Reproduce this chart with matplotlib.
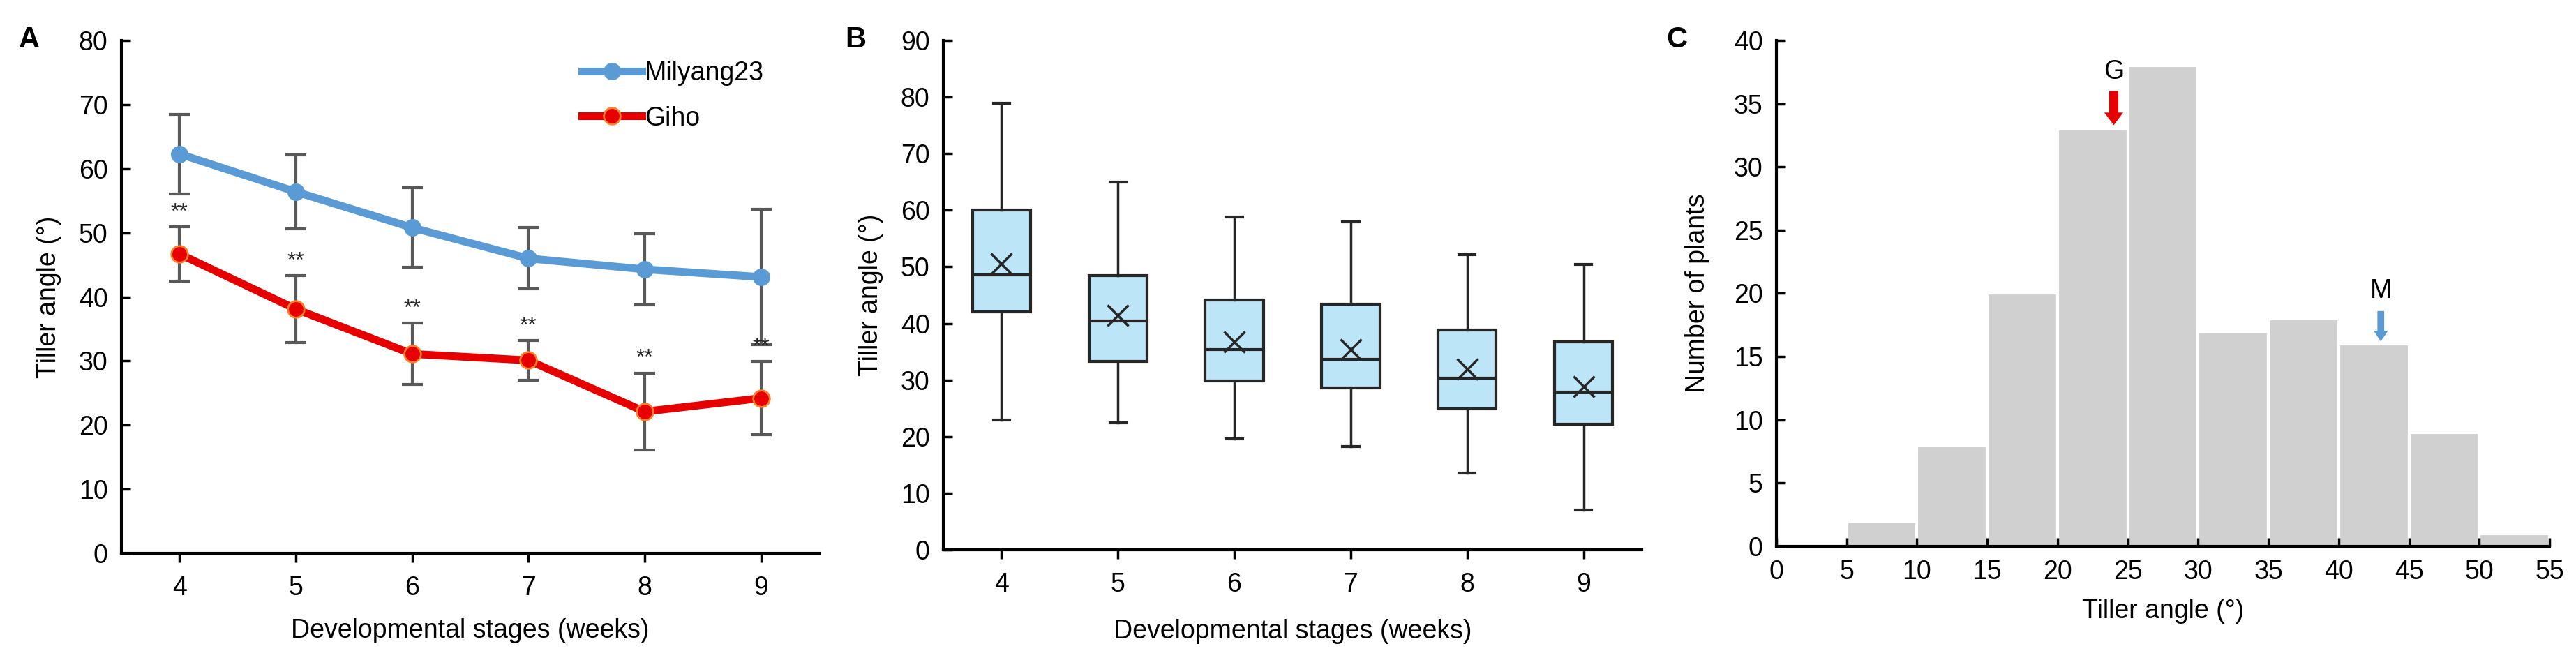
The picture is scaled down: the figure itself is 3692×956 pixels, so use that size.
import numpy as np
import matplotlib
matplotlib.use('Agg')
import matplotlib.pyplot as plt
from matplotlib.lines import Line2D

plt.rcParams['font.family'] = ['Liberation Sans', 'DejaVu Sans']

# Panel A: mean tiller angle with SD
weeks = [4, 5, 6, 7, 8, 9]
milyang_mean = [62.3, 56.4, 50.8, 46.0, 44.3, 43.1]
milyang_sd = [6.2, 5.8, 6.2, 4.8, 5.6, 10.6]
giho_mean = [46.7, 38.1, 31.1, 30.1, 22.1, 24.2]
giho_sd = [4.2, 5.2, 4.8, 3.1, 6.0, 5.7]

# Panel B: box plot stats per week
box_whislo = [22.9, 22.4, 19.6, 18.3, 13.6, 7.0]
box_q1 = [42.1, 33.3, 29.9, 28.6, 24.9, 22.2]
box_med = [48.6, 40.4, 35.4, 33.7, 30.3, 27.9]
box_q3 = [60.0, 48.5, 44.2, 43.4, 38.9, 36.7]
box_whishi = [78.9, 65.0, 58.8, 57.9, 52.2, 50.4]
box_mean = [50.6, 41.4, 36.8, 35.4, 31.9, 28.9]

# Panel C: histogram of tiller angle
bin_edges = [0, 5, 10, 15, 20, 25, 30, 35, 40, 45, 50, 55]
counts = [0, 2, 8, 20, 33, 38, 17, 18, 16, 9, 1]
giho_pos = 24.0
milyang_pos = 43.0

blue = '#5B9BD5'
red = '#E60000'
fs = 27

fig = plt.figure(figsize=(36.92, 9.56), dpi=100)
axA = fig.add_axes([0.0471, 0.1705, 0.2709, 0.7688])
axB = fig.add_axes([0.3662, 0.1757, 0.2711, 0.7636])
axC = fig.add_axes([0.6896, 0.181, 0.3001, 0.7584])

for ax in (axA, axB, axC):
    ax.spines['top'].set_visible(False)
    ax.spines['right'].set_visible(False)
    ax.spines['left'].set_linewidth(3)
    ax.spines['bottom'].set_linewidth(3)
    ax.tick_params(labelsize=fs, width=2.5, length=9, colors='black')
    ax.tick_params(axis='y', direction='in', pad=14)
    ax.tick_params(axis='x', pad=14)

# ---- A ----
axA.errorbar(weeks, milyang_mean, yerr=milyang_sd, fmt='none', ecolor='#595959',
             elinewidth=3, capsize=11, capthick=3, zorder=2)
axA.errorbar(weeks, giho_mean, yerr=giho_sd, fmt='none', ecolor='#595959',
             elinewidth=3, capsize=11, capthick=3, zorder=2)
axA.plot(weeks, milyang_mean, color=blue, lw=8, marker='o', ms=17,
         mfc=blue, mec=blue, zorder=3)
axA.plot(weeks, giho_mean, color=red, lw=8, marker='o', ms=17,
         mfc=red, mec='#FF7F27', mew=2, zorder=3)
for w, m, s in zip(weeks, giho_mean, giho_sd):
    axA.text(w, m + s + 0.6, '**', ha='center', va='bottom', fontsize=23,
             color='#262626', zorder=4)
axA.set_xlim(3.5, 9.5)
axA.set_ylim(0, 80)
axA.set_xticks(weeks)
axA.set_yticks(np.arange(0, 81, 10))
axA.tick_params(axis='x', direction='out')
axA.set_xlabel('Developmental stages (weeks)', fontsize=fs, labelpad=18)
axA.set_ylabel('Tiller angle (°)', fontsize=fs, labelpad=18)
handles = [Line2D([], [], color=blue, lw=8, marker='o', ms=17, mec=blue),
           Line2D([], [], color=red, lw=8, marker='o', ms=17, mec='#FF7F27', mew=2)]
axA.legend(handles, ['Milyang23', 'Giho'], loc='upper left', bbox_to_anchor=(0.66, 0.96),
           frameon=False, fontsize=fs, handlelength=2.3, handletextpad=0.1,
           labelspacing=0.75, borderaxespad=0, borderpad=0)

# ---- B ----
stats = []
for i in range(len(weeks)):
    stats.append(dict(whislo=box_whislo[i], q1=box_q1[i], med=box_med[i], q3=box_q3[i],
                      whishi=box_whishi[i], mean=box_mean[i], fliers=[]))
axB.bxp(stats, positions=weeks, widths=0.5, showmeans=True, patch_artist=True,
        boxprops=dict(facecolor='#BDE5F8', edgecolor='#262626', linewidth=3),
        medianprops=dict(color='#262626', linewidth=3),
        whiskerprops=dict(color='#262626', linewidth=2.5),
        capprops=dict(color='#262626', linewidth=3), capwidths=0.14,
        meanprops=dict(marker='x', markersize=22, markeredgecolor='#262626',
                       markeredgewidth=2.5))
axB.set_xlim(3.5, 9.5)
axB.set_ylim(0, 90)
axB.set_xticks(weeks)
axB.set_xticklabels([str(w) for w in weeks])
axB.set_yticks(np.arange(0, 91, 10))
axB.tick_params(axis='x', direction='out')
axB.set_xlabel('Developmental stages (weeks)', fontsize=fs, labelpad=22)
axB.set_ylabel('Tiller angle (°)', fontsize=fs, labelpad=18)

# ---- C ----
axC.bar(bin_edges[:-1], counts, width=5, align='edge', color='#D0D0D0',
        edgecolor='white', linewidth=3)
axC.set_xlim(0, 55)
axC.set_ylim(0, 40)
axC.set_xticks(bin_edges)
axC.set_yticks(np.arange(0, 41, 5))
axC.tick_params(axis='x', direction='in')
axC.set_xlabel('Tiller angle (°)', fontsize=fs, labelpad=14)
axC.set_ylabel('Number of plants', fontsize=fs, labelpad=24)
axC.annotate('', xy=(giho_pos, 33.3), xytext=(giho_pos, 36.0),
             arrowprops=dict(arrowstyle='simple,head_width=1.95,head_length=1.3,tail_width=0.95',
                             color=red, lw=0, mutation_scale=10, shrinkA=0, shrinkB=0))
axC.text(giho_pos, 36.5, 'G', ha='center', va='bottom', fontsize=fs)
axC.annotate('', xy=(milyang_pos, 16.2), xytext=(milyang_pos, 18.6),
             arrowprops=dict(arrowstyle='simple,head_width=1.5,head_length=1.1,tail_width=0.7',
                             color=blue, lw=0, mutation_scale=10, shrinkA=0, shrinkB=0))
axC.text(milyang_pos, 19.2, 'M', ha='center', va='bottom', fontsize=fs)

fig.text(0.0073, 0.94, 'A', fontsize=30, fontweight='bold', ha='left', va='center')
fig.text(0.328, 0.94, 'B', fontsize=30, fontweight='bold', ha='left', va='center')
fig.text(0.647, 0.94, 'C', fontsize=30, fontweight='bold', ha='left', va='center')

fig.savefig('out.png', dpi=100)
